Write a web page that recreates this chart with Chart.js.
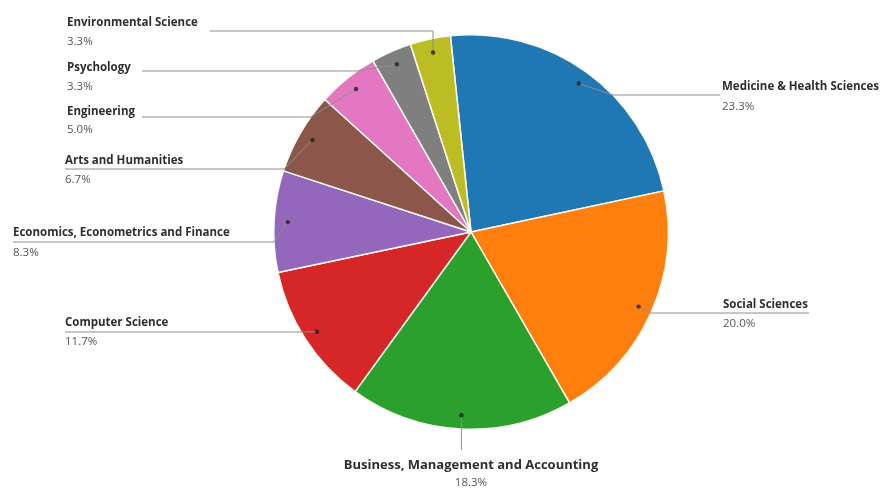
<!DOCTYPE html>
<html>
<head>
<meta charset="utf-8">
<script src="https://cdn.jsdelivr.net/npm/chart.js@4.4.0/dist/chart.umd.min.js"></script>
<style>
  html, body { margin: 0; padding: 0; background: #fff; }
  #wrap { width: 881px; height: 489px; }
  #subjectPie { filter: blur(0.4px); }
</style>
</head>
<body>
<div id="wrap"><canvas id="subjectPie"></canvas></div>
<script>
var subjects = ['Medicine & Health Sciences', 'Social Sciences', 'Business, Management and Accounting',
  'Computer Science', 'Economics, Econometrics and Finance', 'Arts and Humanities',
  'Engineering', 'Psychology', 'Environmental Science']
var shares = [23.3, 20.0, 18.3, 11.7, 8.3, 6.7, 5.0, 3.3, 3.3]
var sliceColors = ['#1f77b4', '#ff7f0e', '#2ca02c', '#d62728', '#9467bd', '#8c564b', '#e377c2', '#7f7f7f', '#bcbd22']

// callout layout: side (-1 left, 1 right, 0 below), text x, name y, percent y,
// leader line y and the far end of the leader line
var callouts = [
  { side: 1, tx: 722, ny: 87, py: 107, ly: 95, lx: 720 },
  { side: 1, tx: 723, ny: 305, py: 324, ly: 313, lx: 809 },
  { side: 0, tx: 471, ny: 465, py: 483, ly: 450 },
  { side: -1, tx: 65, ny: 323, py: 342, ly: 332, lx: 65 },
  { side: -1, tx: 13, ny: 233, py: 253, ly: 242, lx: 13 },
  { side: -1, tx: 65, ny: 161, py: 180, ly: 169, lx: 65 },
  { side: -1, tx: 67, ny: 112, py: 130, ly: 117, lx: 142 },
  { side: -1, tx: 67, ny: 68, py: 87, ly: 71, lx: 142 },
  { side: -1, tx: 67, ny: 23, py: 42, ly: 31, lx: 210 }
]

var calloutPlugin = {
  id: 'callouts',
  afterDatasetsDraw: function(chart) {
    var ctx = chart.ctx
    var arcs = chart.getDatasetMeta(0).data
    arcs.forEach(function(arc, i) {
      var p = arc.getProps(['x', 'y', 'startAngle', 'endAngle', 'outerRadius'], true)
      var R = p.outerRadius
      var mid = (p.startAngle + p.endAngle) / 2
      var dotX = p.x + Math.cos(mid) * R * 0.93
      var dotY = p.y + Math.sin(mid) * R * 0.93
      var c = callouts[i]

      ctx.save()
      ctx.strokeStyle = '#8d8d8d'
      ctx.lineWidth = 1
      ctx.beginPath()
      if (c.side === 0) {
        ctx.moveTo(dotX, dotY)
        ctx.lineTo(dotX, c.ly)
      } else {
        var off = c.ly - p.y
        var ex = dotX
        if (Math.abs(off) < R) {
          ex = p.x + c.side * Math.sqrt(R * R - off * off)
          if (c.side < 0) ex = Math.min(ex, dotX)
          else ex = Math.max(ex, dotX)
        }
        ctx.moveTo(c.lx, c.ly)
        ctx.lineTo(ex, c.ly)
        ctx.lineTo(dotX, dotY)
      }
      ctx.stroke()

      ctx.fillStyle = 'rgba(35,35,35,0.8)'
      ctx.beginPath()
      ctx.arc(dotX, dotY, 2.2, 0, Math.PI * 2)
      ctx.fill()

      ctx.textBaseline = 'middle'
      ctx.textAlign = c.side === 0 ? 'center' : 'left'
      ctx.fillStyle = '#2e2e2e'
      ctx.font = c.side === 0 ? 'bold 13px "Open Sans"' : 'bold 11.5px "Open Sans"'
      ctx.fillText(subjects[i], c.tx, c.ny)
      ctx.fillStyle = '#555'
      ctx.font = '11.5px "Open Sans"'
      ctx.fillText(shares[i].toFixed(1) + '%', c.tx, c.py)
      ctx.restore()
    })
  }
}

var ctx = document.getElementById('subjectPie').getContext('2d')
var myChart = new Chart(ctx, {
  type: 'pie',
  data: {
    labels: subjects,
    datasets: [{
      data: shares,
      backgroundColor: sliceColors,
      borderColor: '#fbfbf2',
      borderWidth: 1.5
    }]
  },
  options: {
    responsive: true,
    maintainAspectRatio: false,
    animation: false,
    rotation: -6,
    layout: {
      padding: { top: 34, bottom: 59, left: 100, right: 39 }
    },
    plugins: {
      legend: { display: false },
      tooltip: { enabled: false }
    }
  },
  plugins: [calloutPlugin]
})
</script>
</body>
</html>
